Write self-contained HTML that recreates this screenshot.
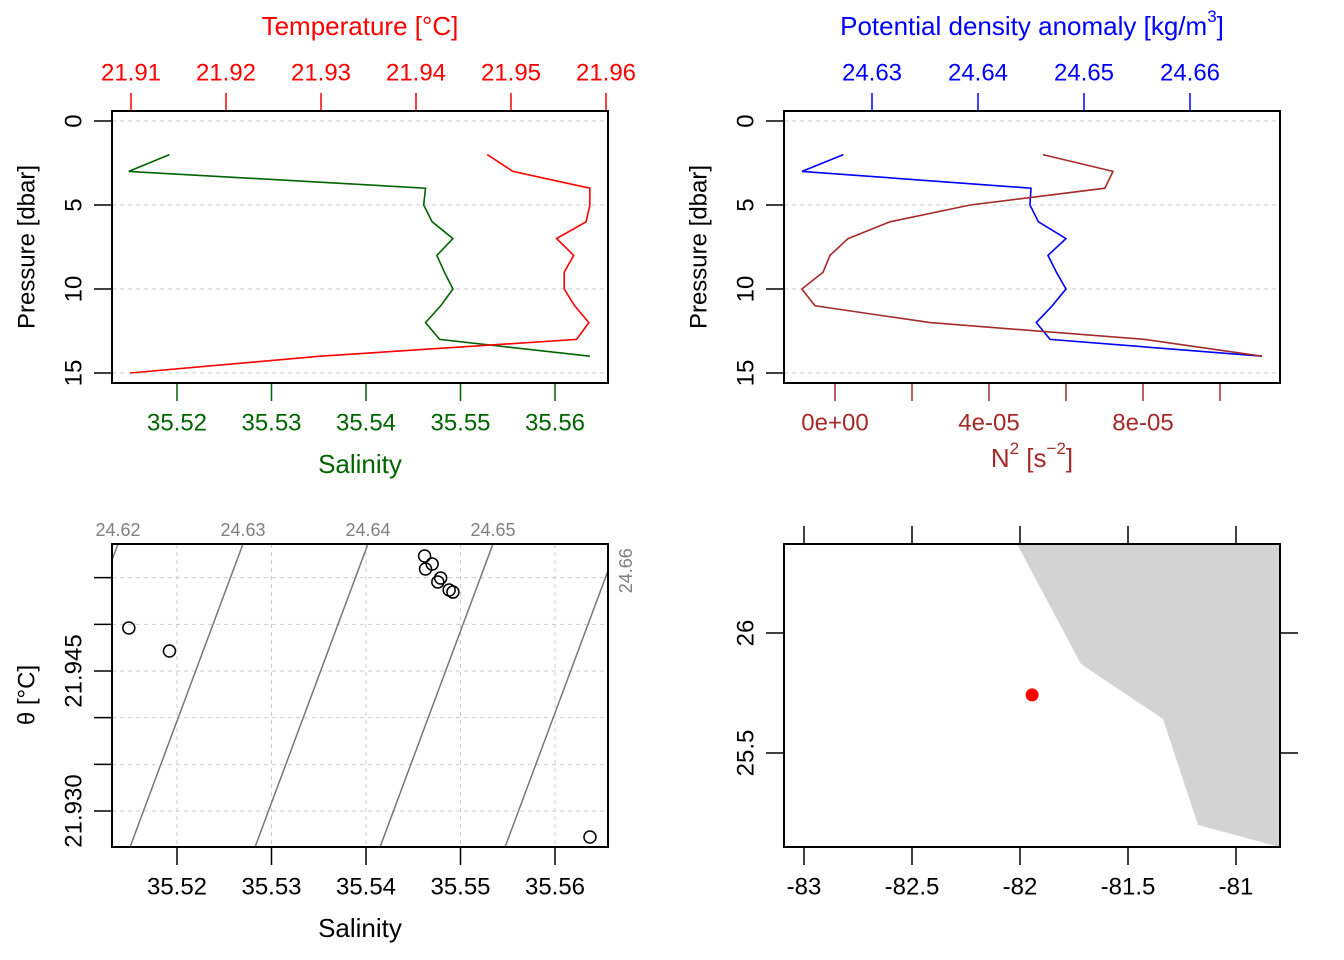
<!DOCTYPE html>
<html><head><meta charset="utf-8"><style>
body{margin:0;background:#fff}
svg{display:block;font-family:"Liberation Sans",Arial,sans-serif}
</style></head><body>
<svg id="s" width="1344" height="960" viewBox="0 0 1344 960"></svg>
<script>
// ---- data ----
const salPressure=[2,3,4,5,6,7,8,9,10,11,12,13,14];
const salinity=[35.5192,35.5149,35.5463,35.5461,35.5470,35.5492,35.5475,35.5483,35.5492,35.5479,35.5463,35.5478,35.5637];
const tempPressure=[2,3,4,5,6,7,8,9,10,11,12,13,14,15];
const temperature=[21.9475,21.9502,21.9583,21.9583,21.9579,21.9548,21.9566,21.9556,21.9556,21.9567,21.9582,21.9569,21.9299,21.9099];
const sigPressure=[2,3,4,5,6,7,8,9,10,11,12,13,14];
const sigma=[24.6273,24.6234,24.6450,24.6449,24.6457,24.6483,24.6466,24.6474,24.6483,24.6470,24.6455,24.6468,24.6668];
const n2Pressure=[2,3,4,5,6,7,8,9,10,11,12,13,14];
const n2=[5.40e-5,7.22e-5,7.01e-5,3.51e-5,1.43e-5,0.34e-5,-0.13e-5,-0.31e-5,-0.86e-5,-0.52e-5,2.47e-5,8.05e-5,11.09e-5];
const tsSalinity=[35.5149,35.5192,35.5462,35.5463,35.5470,35.5476,35.5479,35.5488,35.5492,35.5637];
const tsTheta=[21.94961,21.94714,21.95732,21.95593,21.95646,21.95454,21.95496,21.95368,21.95346,21.92721];
const isoLevels=[24.62,24.63,24.64,24.65,24.66];
const pTicks=[0,5,10,15];
const tTicks=[21.91,21.92,21.93,21.94,21.95,21.96];
const sTicks=[35.52,35.53,35.54,35.55,35.56];
const sigTicks=[24.63,24.64,24.65,24.66];
const n2Ticks=[0,2e-5,4e-5,6e-5,8e-5,10e-5];
const thetaTicks=[21.93,21.935,21.94,21.945,21.95,21.955];
const lonTicks=[-83,-82.5,-82,-81.5,-81];
const latTicks=[25.5,26];
const coastLon=[-82.014,-81.718,-81.338,-81.176,-80.796,-80.796];
const coastLat=[26.371,25.871,25.642,25.200,25.108,26.371];
const stationLon=[-81.944], stationLat=[25.742];

const S=document.getElementById('s');
const NS='http://www.w3.org/2000/svg';
function el(t,a,name,parent){const e=document.createElementNS(NS,t);for(const k in a)e.setAttribute(k,a[k]);


(parent||S).appendChild(e);return e;}
function txt(x,y,s,name,col,size,rot,anchor){const e=el('text',{x:x,y:y,fill:col||'#000','font-size':size||24,'text-anchor':anchor||'middle','dominant-baseline':'central'},name);
if(rot)e.setAttribute('transform','rotate(-90 '+x+' '+y+')');e.textContent=s;return e;}
function line(x1,y1,x2,y2,col,name,extra){const a={x1,y1,x2,y2,stroke:col,'stroke-width':1.5};Object.assign(a,extra||{});return el('line',a,name);}
function poly(xs,ys,col,name){return el('polyline',{points:xs.map((x,i)=>x+','+ys[i]).join(' '),fill:'none',stroke:col,'stroke-width':1.6},name);}

const pY=p=>121+p*16.8;
const tX=t=>131+(t-21.91)*9500;
const sX=s=>177+(s-35.52)*9450;
const sigX=g=>872+(g-24.63)*10600;
const n2X=n=>835+n/2e-5*77;
const thY=t=>671-(t-21.945)*9333;
const lonX=l=>804+(l+83)*216;
const latY=l=>633-(l-26)*240;
const dash={'stroke-dasharray':'4,4','stroke-width':1};

// ---- panel 1 ----
pTicks.forEach(p=>{line(112,pY(p),608,pY(p),'#ccc','pressure-grid',dash);line(94,pY(p),112,pY(p),'#000','pressure-tick');txt(74,pY(p),p,'pressure-tick-label','#000',24,true);});
txt(27,247,'Pressure [dbar]','y-axis-title','#000',24,true);
tTicks.forEach(t=>{line(tX(t),93,tX(t),111,'red','temperature-tick');txt(tX(t),73,t.toFixed(2),'temperature-tick-label','red');});
txt(360,26,'Temperature [°C]','temperature-axis-title','red',26);
sTicks.forEach(s=>{line(sX(s),383,sX(s),401,'#006400','salinity-tick');txt(sX(s),423,s.toFixed(2),'salinity-tick-label','#006400');});
txt(360,464,'Salinity','salinity-axis-title','#006400',26);
poly(salinity.map(sX),salPressure.map(pY),'#006400','salinity-profile');
poly(temperature.map(tX),tempPressure.map(pY),'red','temperature-profile');
el('rect',{x:112,y:111,width:496,height:272,fill:'none',stroke:'#000','stroke-width':2},'panel1-frame');

// ---- panel 2 ----
pTicks.forEach(p=>{line(784,pY(p),1280,pY(p),'#ccc','pressure-grid',dash);line(766,pY(p),784,pY(p),'#000','pressure-tick');txt(746,pY(p),p,'pressure-tick-label','#000',24,true);});
txt(699,247,'Pressure [dbar]','y-axis-title','#000',24,true);
sigTicks.forEach(g=>{line(sigX(g),93,sigX(g),111,'blue','density-tick');txt(sigX(g),73,g.toFixed(2),'density-tick-label','blue');});
const dt=el('text',{x:1032,y:26,fill:'blue','font-size':26,'text-anchor':'middle','dominant-baseline':'central'},'density-axis-title');
dt.innerHTML='Potential density anomaly [kg/m<tspan dy="-10" font-size="17">3</tspan><tspan dy="10">]</tspan>';
n2Ticks.forEach((n,i)=>{line(n2X(n),383,n2X(n),401,'brown','n2-tick');if(i%2==0)txt(n2X(n),423,n==0?'0e+00':(Math.round(n*1e5)+'e-05'),'n2-tick-label','brown');});
const nt=el('text',{x:1032,y:458,fill:'brown','font-size':26,'text-anchor':'middle','dominant-baseline':'central'},'n2-axis-title');
nt.innerHTML='N<tspan dy="-10" font-size="17">2</tspan><tspan dy="10"> [s</tspan><tspan dy="-10" font-size="17">−2</tspan><tspan dy="10">]</tspan>';
poly(sigma.map(sigX),sigPressure.map(pY),'blue','density-profile');
poly(n2.map(n2X),n2Pressure.map(pY),'brown','n2-profile');
el('rect',{x:784,y:111,width:496,height:272,fill:'none',stroke:'#000','stroke-width':2},'panel2-frame');

// ---- panel 3 (TS) ----
const cp=el('clipPath',{id:'c3'},'ts-clip');el('rect',{x:112,y:544,width:496,height:303},'ts-clip-rect',cp);
sTicks.forEach(s=>{line(sX(s),544,sX(s),847,'#ccc','ts-grid-v',dash);line(sX(s),847,sX(s),865,'#000','ts-salinity-tick');txt(sX(s),887,s.toFixed(2),'ts-salinity-tick-label');});
thetaTicks.forEach((t,i)=>{line(112,thY(t),608,thY(t),'#ccc','ts-grid-h',dash);line(94,thY(t),112,thY(t),'#000','theta-tick');if(i==0||i==3)txt(74,thY(t),t.toFixed(3),'theta-tick-label','#000',24,true);});
txt(360,928,'Salinity','ts-x-axis-title','#000',26);
txt(27,695,'θ [°C]','ts-y-axis-title','#000',24,true);
const Sof=(g,t)=>35.52698+0.368*(t-21.95861)+(g-24.63)/0.756;
const tTop=21.95861,tBot=21.945-(847-671)/9333;
isoLevels.forEach(g=>{const x1=sX(Sof(g,tTop)),x2=sX(Sof(g,tBot));
line(x1,544,x2,847,'#777','isopycnal',{'stroke-width':1.5,'clip-path':'url(#c3)'});
if(x1>=112&&x1<=608)txt(x1,530,g.toFixed(2),'isopycnal-label','#808080',18);
else if(x1>608){const yy=544+(x1-608)/(x1-x2)*303;txt(626,yy,g.toFixed(2),'isopycnal-label','#808080',18,true);}
});
tsSalinity.forEach((s,i)=>el('circle',{cx:sX(s),cy:thY(tsTheta[i]),r:6,fill:'none',stroke:'#000','stroke-width':1.5},'ts-point'));
el('rect',{x:112,y:544,width:496,height:303,fill:'none',stroke:'#000','stroke-width':2},'panel3-frame');

// ---- panel 4 (map) ----
const cp4=el('clipPath',{id:'c4'},'map-clip');el('rect',{x:784,y:544,width:496,height:303},'map-clip-rect',cp4);
el('polygon',{points:coastLon.map((l,i)=>lonX(l)+','+latY(coastLat[i])).join(' '),fill:'#d3d3d3',stroke:'none','clip-path':'url(#c4)'},'land');
lonTicks.forEach(l=>{line(lonX(l),847,lonX(l),865,'#000','lon-tick');line(lonX(l),526,lonX(l),544,'#000','lon-tick-top');txt(lonX(l),887,String(l),'lon-tick-label');});
latTicks.forEach(l=>{line(766,latY(l),784,latY(l),'#000','lat-tick');line(1280,latY(l),1298,latY(l),'#000','lat-tick-right');txt(746,latY(l),String(l),'lat-tick-label','#000',24,true);});
stationLon.forEach((l,i)=>el('circle',{cx:lonX(l),cy:latY(stationLat[i]),r:6.5,fill:'red'},'station-marker'));
el('rect',{x:784,y:544,width:496,height:303,fill:'none',stroke:'#000','stroke-width':2},'panel4-frame');
</script>
</body></html>
